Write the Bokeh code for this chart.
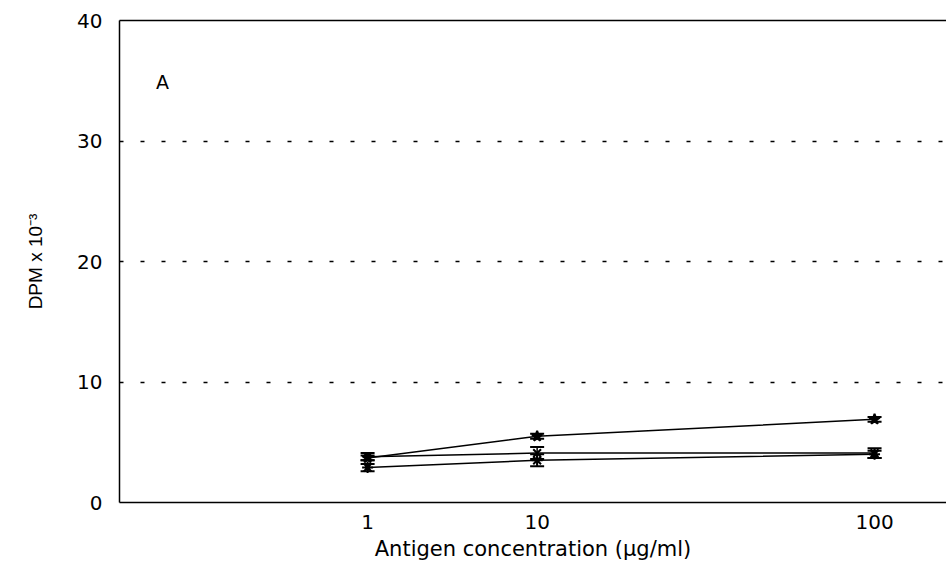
from bokeh.plotting import figure
from bokeh.models import (ColumnDataSource, Whisker, FixedTicker, LinearAxis, Label, Range1d)
from bokeh.embed import file_html
from bokeh.resources import INLINE

# ---- data ----
concentrations = ["1", "10", "100"]          # antigen concentration (ug/ml)
series1 = [3.7, 5.5, 6.9]
series1_err = [0.2, 0.2, 0.2]
series2 = [3.8, 4.1, 4.1]
series2_err = [0.3, 0.5, 0.4]
series3 = [2.9, 3.5, 4.0]
series3_err = [0.3, 0.5, 0.3]
y_ticks = [0, 10, 20, 30, 40]

# ---- layout (axis slot for each concentration; reference axis is not a true log scale) ----
x_slots = [0.300, 0.505, 0.913]

FONT = "DejaVu Sans"

p = figure(width=946, height=569, output_backend="svg", toolbar_location=None,
           x_range=Range1d(0, 1), y_range=Range1d(0, 40),
           min_border_left=119, min_border_top=20, min_border_right=0,
           min_border_bottom=67)
p.outline_line_color = None
p.background_fill_color = "white"
p.border_fill_color = "white"

# axes
p.xaxis.ticker = FixedTicker(ticks=x_slots)
p.xaxis.major_label_overrides = {x: c for x, c in zip(x_slots, concentrations)}
p.yaxis.ticker = FixedTicker(ticks=y_ticks)
for ax in (p.xaxis[0], p.yaxis[0]):
    ax.axis_line_color = "black"
    ax.axis_line_width = 1.5
    ax.major_tick_line_color = None
    ax.minor_tick_line_color = None
    ax.major_label_text_font = FONT
    ax.major_label_text_font_size = "20px"
    ax.major_label_text_color = "black"
    ax.axis_label_text_color = "black"
    ax.axis_label_text_font_style = "normal"

p.xaxis.major_label_standoff = 6
p.xaxis.axis_label = "Antigen concentration (\u03bcg/ml)"
p.xaxis.axis_label_text_font = FONT
p.xaxis.axis_label_text_font_size = "21px"
p.xaxis.axis_label_standoff = 5

p.yaxis.major_label_standoff = 11
p.yaxis.axis_label = "DPM x 10\u207b\u00b3"
p.yaxis.axis_label_text_font = "Liberation Sans"
p.yaxis.axis_label_text_font_size = "19px"
p.yaxis.axis_label_standoff = 28

# top border line
top = LinearAxis(ticker=FixedTicker(ticks=[]), axis_line_color="black", axis_line_width=1.5,
                 major_tick_line_color=None, minor_tick_line_color=None)
p.add_layout(top, "above")

# grid
p.xgrid.grid_line_color = None
p.ygrid.ticker = FixedTicker(ticks=[10, 20, 30])
p.ygrid.grid_line_color = "black"
p.ygrid.grid_line_dash = "4 17"
p.ygrid.grid_line_dash_offset = 0
p.ygrid.grid_line_width = 1.5

# series
specs = [
    (series1, series1_err, "star"),
    (series2, series2_err, "x"),
    (series3, series3_err, "asterisk"),
]
for vals, errs, marker in specs:
    src = ColumnDataSource(dict(
        x=x_slots, y=vals,
        lo=[v - e for v, e in zip(vals, errs)],
        hi=[v + e for v, e in zip(vals, errs)],
    ))
    p.line("x", "y", source=src, line_color="black", line_width=1.5)
    w = Whisker(base="x", lower="lo", upper="hi", source=src, dimension="height",
                line_color="black", line_width=1.5)
    w.upper_head.size = 14
    w.lower_head.size = 14
    w.upper_head.line_width = 2
    w.lower_head.line_width = 2
    p.add_layout(w)
    p.scatter("x", "y", source=src, marker=marker, size=11, line_color="black",
              fill_color="black", line_width=2)

# panel label
p.add_layout(Label(x=0.052, y=34.9, text="A", text_font=FONT, text_font_size="19px",
                   text_color="black", text_align="center", text_baseline="middle"))

open("out.html", "w").write(file_html(p, INLINE))
